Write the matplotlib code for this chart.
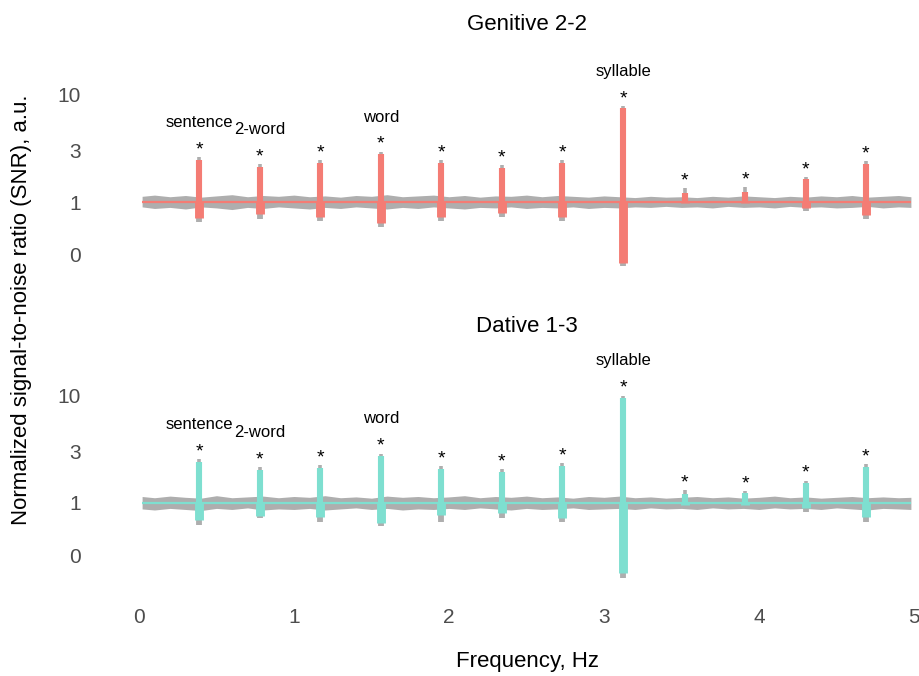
import matplotlib

matplotlib.use("Agg")
import matplotlib.pyplot as plt
import numpy as np

plt.rcParams["font.family"] = ["Liberation Sans", "DejaVu Sans"]

W, H = 919, 676
DPI = 100

RED = "#F47C74"
CYAN = "#7EDFD0"
GREY = "#AEAEAE"

# peaks are the harmonics of the sentence rate (12 of them)
PEAK_FREQ = [0.39, 0.78, 1.17, 1.56, 1.95, 2.34, 2.73, 3.125, 3.52, 3.91, 4.30, 4.69]
PEAK_LABELS = ["sentence", "2-word", "", "word", "", "", "", "syllable", "", "", "", ""]

GEN_HI = [2.47, 2.12, 2.31, 2.81, 2.31, 2.08, 2.31, 7.56, 1.21, 1.24, 1.64, 2.26]
GEN_LO = [0.71, 0.77, 0.72, 0.64, 0.72, 0.79, 0.72, 0.27, 0.97, 0.98, 0.88, 0.76]
GEN_GREY_HI = [2.63, 2.25, 2.45, 2.95, 2.45, 2.20, 2.45, 7.90, 1.35, 1.38, 1.72, 2.40]
GEN_GREY_LO = [0.65, 0.70, 0.66, 0.59, 0.67, 0.72, 0.67, 0.25, 0.91, 0.91, 0.83, 0.70]

DAT_HI = [2.42, 2.03, 2.12, 2.75, 2.08, 1.95, 2.22, 9.60, 1.21, 1.24, 1.54, 2.17]
DAT_LO = [0.69, 0.76, 0.74, 0.65, 0.77, 0.81, 0.72, 0.22, 0.96, 0.96, 0.90, 0.74]
DAT_GREY_HI = [2.58, 2.15, 2.25, 2.90, 2.20, 2.07, 2.35, 10.1, 1.32, 1.29, 1.62, 2.30]
DAT_GREY_LO = [0.62, 0.72, 0.67, 0.61, 0.67, 0.73, 0.66, 0.20, 0.91, 0.91, 0.82, 0.67]

# background noise envelope, read every 0.1 Hz
NOISE_FREQ = [0.02, 0.1, 0.2, 0.3, 0.4, 0.5, 0.6, 0.7, 0.8, 0.9,
              1.0, 1.1, 1.2, 1.3, 1.4, 1.5, 1.6, 1.7, 1.8, 1.9,
              2.0, 2.1, 2.2, 2.3, 2.4, 2.5, 2.6, 2.7, 2.8, 2.9,
              3.0, 3.1, 3.2, 3.3, 3.4, 3.5, 3.6, 3.7, 3.8, 3.9,
              4.0, 4.1, 4.2, 4.3, 4.4, 4.5, 4.6, 4.7, 4.8, 4.9, 4.98]
GEN_NOISE_HI = [1.13, 1.16, 1.12, 1.15, 1.11, 1.14, 1.17, 1.12, 1.15, 1.13,
                1.16, 1.12, 1.14, 1.11, 1.15, 1.13, 1.17, 1.12, 1.14, 1.16,
                1.12, 1.15, 1.11, 1.14, 1.13, 1.16, 1.12, 1.15, 1.13, 1.11,
                1.14, 1.12, 1.10, 1.13, 1.11, 1.12, 1.10, 1.13, 1.11, 1.14,
                1.12, 1.10, 1.13, 1.11, 1.14, 1.12, 1.15, 1.11, 1.13, 1.15, 1.12]
GEN_NOISE_LO = [0.90, 0.87, 0.89, 0.86, 0.90, 0.88, 0.85, 0.89, 0.87, 0.90,
                0.88, 0.86, 0.89, 0.87, 0.90, 0.88, 0.86, 0.89, 0.87, 0.90,
                0.88, 0.86, 0.89, 0.88, 0.90, 0.87, 0.89, 0.88, 0.90, 0.87,
                0.89, 0.88, 0.90, 0.89, 0.91, 0.89, 0.90, 0.88, 0.91, 0.89,
                0.90, 0.88, 0.91, 0.89, 0.90, 0.88, 0.89, 0.91, 0.88, 0.90, 0.89]
DAT_NOISE_HI = [1.15, 1.12, 1.16, 1.13, 1.11, 1.17, 1.12, 1.14, 1.16, 1.12,
                1.15, 1.13, 1.17, 1.12, 1.14, 1.11, 1.16, 1.13, 1.15, 1.12,
                1.14, 1.17, 1.12, 1.15, 1.13, 1.16, 1.12, 1.14, 1.11, 1.15,
                1.13, 1.16, 1.12, 1.14, 1.11, 1.13, 1.15, 1.12, 1.14, 1.11,
                1.13, 1.16, 1.12, 1.14, 1.11, 1.13, 1.15, 1.12, 1.14, 1.12, 1.13]
DAT_NOISE_LO = [0.88, 0.86, 0.89, 0.87, 0.85, 0.89, 0.87, 0.90, 0.86, 0.88,
                0.87, 0.89, 0.86, 0.88, 0.90, 0.87, 0.89, 0.86, 0.88, 0.87,
                0.89, 0.87, 0.90, 0.88, 0.86, 0.89, 0.87, 0.88, 0.90, 0.87,
                0.88, 0.89, 0.87, 0.90, 0.88, 0.89, 0.87, 0.90, 0.88, 0.89,
                0.87, 0.90, 0.88, 0.89, 0.87, 0.90, 0.88, 0.86, 0.89, 0.88, 0.87]
MEAN_LEVEL = 1.0

Y_TICKS = [0.32, 1, 3, 10]
Y_TICK_LABELS = ["0", "1", "3", "10"]
X_TICKS = [0, 1, 2, 3, 4, 5]

PANELS = [
    ("Genitive 2-2", RED, GEN_HI, GEN_LO, GEN_GREY_HI, GEN_GREY_LO, GEN_NOISE_HI, GEN_NOISE_LO),
    ("Dative 1-3", CYAN, DAT_HI, DAT_LO, DAT_GREY_HI, DAT_GREY_LO, DAT_NOISE_HI, DAT_NOISE_LO),
]

# layout in pixels: x=0 Hz at 139 px, 155 px per Hz; 107 px per decade
X0_PX, PX_PER_HZ, PX_PER_DEC = 139, 155, 107
AX_LEFT, AX_RIGHT = 100, 919
PANEL_TOPS = [45, 346]
ONE_PX = [202, 503]
AX_HEIGHT = 245


def draw_panel(fig, i, title, color, hi, lo, ghi, glo, nhi, nlo):
    top = PANEL_TOPS[i]
    ax = fig.add_axes([
        AX_LEFT / W,
        1 - (top + AX_HEIGHT) / H,
        (AX_RIGHT - AX_LEFT) / W,
        AX_HEIGHT / H,
    ])
    ax.set_yscale("log")
    ax.set_xlim((AX_LEFT - X0_PX) / PX_PER_HZ, (AX_RIGHT - X0_PX) / PX_PER_HZ)
    ax.set_ylim(
        10 ** ((ONE_PX[i] - (top + AX_HEIGHT)) / PX_PER_DEC),
        10 ** ((ONE_PX[i] - top) / PX_PER_DEC),
    )

    ax.fill_between(NOISE_FREQ, nlo, nhi, color=GREY, linewidth=0)
    ax.vlines(PEAK_FREQ, MEAN_LEVEL, ghi, color=GREY, linewidth=2.6)
    ax.vlines(PEAK_FREQ, glo, MEAN_LEVEL, color=GREY, linewidth=4.2)
    ax.hlines(MEAN_LEVEL, NOISE_FREQ[0], NOISE_FREQ[-1], color=color, linewidth=1.6)
    ax.vlines(PEAK_FREQ, MEAN_LEVEL, hi, color=color, linewidth=4.4)
    ax.vlines(PEAK_FREQ, lo, MEAN_LEVEL, color=color, linewidth=6.4)

    for f, tip, label in zip(PEAK_FREQ, ghi, PEAK_LABELS):
        ax.annotate("*", xy=(f, tip), xytext=(0, 2), textcoords="offset points",
                    ha="center", va="baseline", fontsize=14)
        if label:
            ax.annotate(label, xy=(f, tip), xytext=(0, 25), textcoords="offset points",
                        ha="center", va="center", fontsize=12)

    ax.set_yticks(Y_TICKS)
    ax.set_yticklabels(Y_TICK_LABELS)
    ax.yaxis.set_minor_locator(matplotlib.ticker.NullLocator())
    ax.set_xticks(X_TICKS)
    if i == 0:
        ax.set_xticklabels([])
    ax.tick_params(length=0, labelsize=15, labelcolor="#4D4D4D")
    ax.tick_params(axis="y", pad=14)
    ax.tick_params(axis="x", pad=12)
    for s in ax.spines.values():
        s.set_visible(False)
    ax.set_facecolor("none")

    fig.text(527 / W, 1 - (top - 20) / H, title, ha="center", va="center", fontsize=16)
    return ax


fig = plt.figure(figsize=(W / DPI, H / DPI), dpi=DPI)
for i, panel in enumerate(PANELS):
    draw_panel(fig, i, *panel)

fig.text(22 / W, 1 - 310 / H, "Normalized signal-to-noise ratio (SNR), a.u.",
         rotation=90, ha="center", va="center", fontsize=16)
fig.text(528 / W, 1 - 662 / H, "Frequency, Hz", ha="center", va="center", fontsize=16)

fig.savefig("out.png", dpi=DPI)
